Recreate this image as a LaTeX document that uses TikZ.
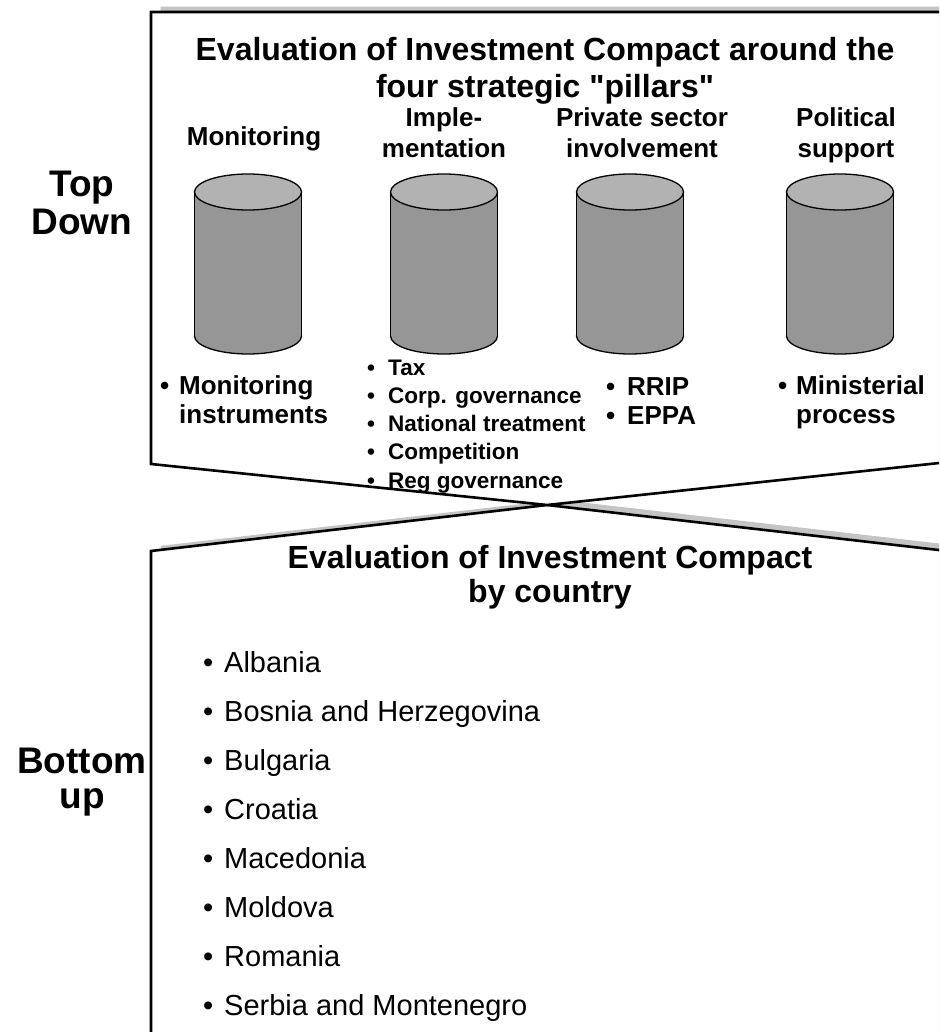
\documentclass[tikz,border=0pt]{standalone}
\usepackage{fontspec}
\setmainfont{Liberation Sans}[Ligatures=TeXOff]
\definecolor{shadowgrey}{HTML}{C4C4C4}
\definecolor{canbody}{HTML}{969696}
\definecolor{cantop}{HTML}{B2B2B2}
\newcommand\bul[1]{\makebox[#1][l]{•}}
\begin{document}
\begin{tikzpicture}[x=1pt,y=-1pt,
  frame/.style={draw=black, line width=2.6pt, fill=white, line join=miter},
  castshadow/.style={draw=shadowgrey, line width=2.6pt, fill=shadowgrey},
  canline/.style={draw=black, line width=1.3pt},
  ttl/.style={font=\fontsize{32}{38}\selectfont\bfseries, inner sep=0pt, anchor=base},
  hdr/.style={font=\fontsize{26}{30}\selectfont\bfseries, inner sep=0pt, anchor=base},
  side/.style={font=\fontsize{37}{44}\selectfont\bfseries, inner sep=0pt, anchor=base},
  listbig/.style={font=\fontsize{26}{29}\selectfont\bfseries, inner sep=0pt, anchor=base west},
  listsmall/.style={font=\fontsize{22.5}{28.3}\selectfont\bfseries, inner sep=0pt, anchor=base west},
  countries/.style={font=\fontsize{29}{49.1}\selectfont, inner sep=0pt, anchor=base west}
]
\useasboundingbox (0,0) rectangle (939,1032);
\clip (0,0) rectangle (939,1032);

% lower panel with its cast shadow
\path[castshadow, shift={(11,-4)}] (151,1060) -- (151,551) -- (547,505) -- (970,553.6) -- (970,1060) -- cycle;
\path[frame] (151,1060) -- (151,551) -- (547,505) -- (970,553.6) -- (970,1060) -- cycle;

% upper panel with its cast shadow
\path[castshadow, shift={(11,-4)}] (151,12) -- (970,12) -- (970,459.7) -- (547,505) -- (151,464) -- cycle;
\path[frame] (151,12) -- (970,12) -- (970,459.7) -- (547,505) -- (151,464) -- cycle;

% the four pillars
\foreach \cx in {248,444,630,840}{
  \path[fill=canbody, canline] (\cx,336) ellipse [x radius=53.5pt, y radius=18pt];
  \fill[canbody] (\cx-53.5,192) rectangle (\cx+53.5,336);
  \draw[canline] (\cx-53.5,192) -- (\cx-53.5,336);
  \draw[canline] (\cx+53.5,192) -- (\cx+53.5,336);
  \path[fill=cantop, canline] (\cx,192) ellipse [x radius=53.5pt, y radius=18pt];
}

% titles
\node[ttl] (t1a) at (545,61) {Evaluation of Investment Compact around the};
\node[ttl] (t1b) at (545,98) {four strategic "pillars"};
\node[ttl] (t2a) at (550,568) {Evaluation of Investment Compact};
\node[ttl] (t2b) at (550,602) {by country};

% side labels
\node[side] (topl) at (82,197) {Top};
\node[side] (downl) at (82,235) {Down};
\node[side] (botl) at (82,773) {Bottom};
\node[side] (upl) at (82,808) {up};

% pillar headings
\node[hdr] (h1) at (254,146) {Monitoring};
\node[hdr] (h2a) at (444,127) {Imple-};
\node[hdr] (h2b) at (444,158) {mentation};
\node[hdr] (h3a) at (642,127) {Private sector};
\node[hdr] (h3b) at (642,158) {involvement};
\node[hdr] (h4a) at (846,127) {Political};
\node[hdr] (h4b) at (846,158) {support};

% pillar contents
\node[listbig] (l1) at (160,394) {\begin{tabular}[t]{@{}l@{}}\bul{19pt}Monitoring\\\hspace{19pt}instruments\end{tabular}};
\node[listsmall] (l2) at (367,375) {\begin{tabular}[t]{@{}l@{}}\bul{21pt}Tax\\\bul{21pt}Corp. governance\\\bul{21pt}National treatment\\\bul{21pt}Competition\\\bul{21pt}Reg governance\end{tabular}};
\node[listbig] (l3) at (606,395) {\begin{tabular}[t]{@{}l@{}}\bul{21pt}RRIP\\\bul{21pt}EPPA\end{tabular}};
\node[listbig] (l4) at (778,394) {\begin{tabular}[t]{@{}l@{}}\bul{18pt}Ministerial\\\hspace{18pt}process\end{tabular}};

% countries
\node[countries] (cl) at (203,672) {\begin{tabular}[t]{@{}l@{}}\bul{21pt}Albania\\\bul{21pt}Bosnia and Herzegovina\\\bul{21pt}Bulgaria\\\bul{21pt}Croatia\\\bul{21pt}Macedonia\\\bul{21pt}Moldova\\\bul{21pt}Romania\\\bul{21pt}Serbia and Montenegro\end{tabular}};
\end{tikzpicture}
\end{document}
